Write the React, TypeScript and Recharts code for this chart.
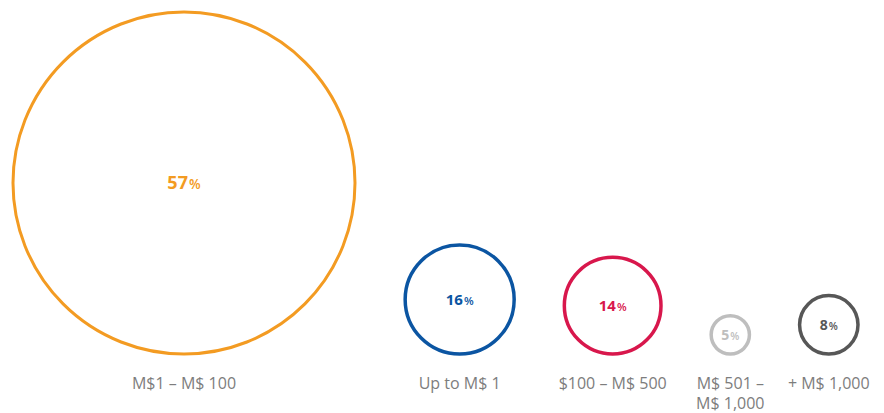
import { ScatterChart, Scatter, XAxis, YAxis, ZAxis } from "recharts"

const categories = [
  "M$1 – M$ 100",
  "Up to M$ 1",
  "$100 – M$ 500",
  "M$ 501 – M$ 1,000",
  "+ M$ 1,000",
]
const shares = [57, 16, 14, 5, 8]
const colors = ["#F39B22", "#0B55A2", "#D8174C", "#BEBEBE", "#575757"]

const WIDTH = 884
const HEIGHT = 413
const margin = { top: 12, right: 26, bottom: 59, left: 13 }
const plotW = WIDTH - margin.left - margin.right
const plotH = HEIGHT - margin.top - margin.bottom
const R = plotH / 2 // radius of the biggest bubble, px
const EXP = 0.9

// bubble radius in "units" (biggest = 1), then pack them left to right
const maxShare = Math.max(...shares)
const radii = shares.map((s) => Math.pow(s / maxShare, EXP))
const totalUnits = plotW / R
const gap =
  (totalUnits - radii.reduce((a, r) => a + 2 * r, 0)) / (radii.length - 1)

let cursor = 0
const data = categories.map((name, i) => {
  const r = radii[i]
  const x = cursor + r
  cursor += 2 * r + gap
  return { name, share: shares[i], x, y: r, z: r * r, color: colors[i] }
})

function splitLabel(name: string) {
  if (name.length <= 14) return [name]
  const idx = name.indexOf(" – ")
  if (idx < 0) return [name]
  return [name.slice(0, idx + 2), name.slice(idx + 3)]
}

function Bubble(props: any) {
  const { cx, cy, width, size, payload } = props
  const r = width != null ? width / 2 : Math.sqrt(size / Math.PI)
  const color = payload.color
  const fs = r > 100 ? 18 : r > 40 ? 15 : 14
  const lines = splitLabel(payload.name)
  return (
    <g>
      <circle
        cx={cx}
        cy={cy}
        r={r}
        fill="none"
        stroke={color}
        strokeWidth={r > 100 ? 3 : 3.5}
      />
      <text
        x={cx}
        y={cy + fs * 0.36}
        textAnchor="middle"
        fill={color}
        fontFamily="'Open Sans', sans-serif"
      >
        <tspan fontSize={fs} fontWeight={700}>
          {payload.share}
        </tspan>
        <tspan fontSize={fs * 0.75} fontWeight={600} dx={1}>
          %
        </tspan>
      </text>
      <text
        x={cx}
        y={cy + r + 35}
        textAnchor="middle"
        fill="#7d7d7d"
        fontSize={16}
        fontFamily="'Open Sans', sans-serif"
      >
        {lines.map((l, i) => (
          <tspan key={i} x={cx} dy={i === 0 ? 0 : 20}>
            {l}
          </tspan>
        ))}
      </text>
    </g>
  )
}

export default function App() {
  return (
    <div style={{ position: "absolute", left: 0, top: 0, background: "#fff" }}>
      <ScatterChart width={WIDTH} height={HEIGHT} margin={margin}>
        <XAxis type="number" dataKey="x" domain={[0, totalUnits]} hide />
        <YAxis type="number" dataKey="y" domain={[0, 2]} hide />
        <ZAxis
          type="number"
          dataKey="z"
          domain={[0, 1]}
          range={[0, Math.PI * R * R]}
        />
        <Scatter
          data={data}
          isAnimationActive={false}
          shape={(p: any) => <Bubble {...p} />}
        />
      </ScatterChart>
    </div>
  )
}
